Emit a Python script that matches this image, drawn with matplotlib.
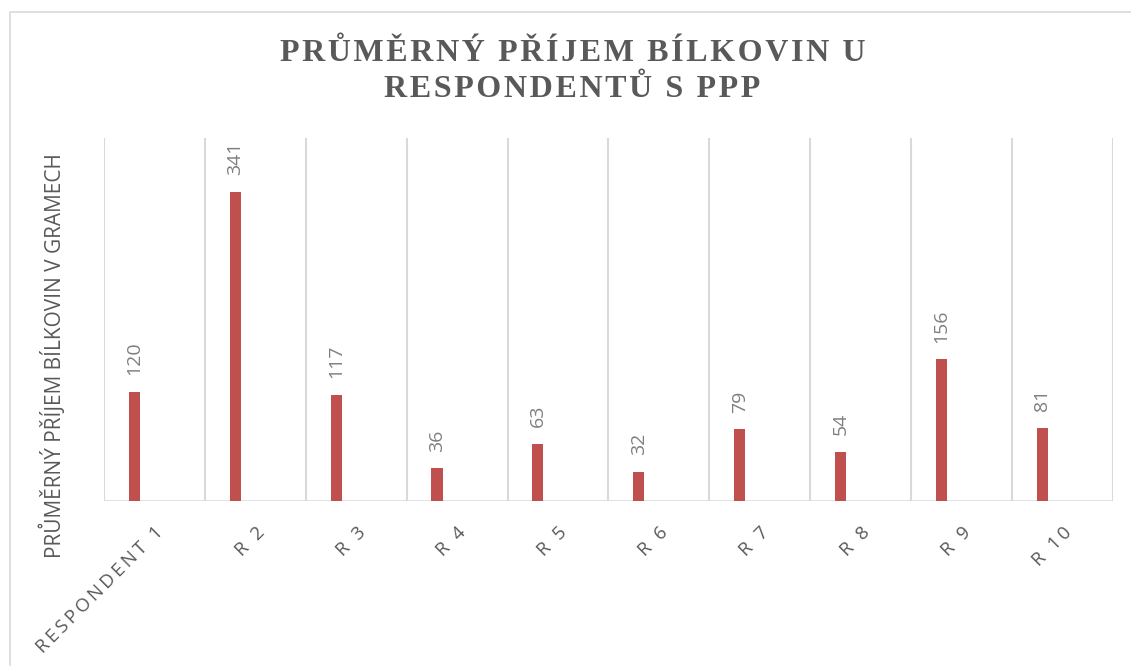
import numpy as np
import matplotlib.pyplot as plt
from matplotlib.patches import Rectangle

categories = ["RESPONDENT 1", "R 2", "R 3", "R 4", "R 5", "R 6", "R 7", "R 8", "R 9", "R 10"]
protein = [120, 341, 117, 36, 63, 32, 79, 54, 156, 81]

bar_color = "#C0504D"
grid_color = "#D9D9D9"
text_color = "#595959"
sans = ["Open Sans", "DejaVu Sans"]
serif = ["Liberation Serif", "DejaVu Serif"]


def spaced(s, sep="\u2009"):
    # fake letter spacing with thin spaces
    return "\n".join(sep.join(line) for line in s.split("\n"))


fig = plt.figure(figsize=(11.31, 6.66), dpi=100)
ax = fig.add_axes([0.092, 0.2477, 0.892, 0.545])

# outer chart border
fig.patches.append(Rectangle((10 / 1131, -0.01), 1.0, (666 - 12) / 666 + 0.01,
                             transform=fig.transFigure, fill=False,
                             edgecolor=grid_color, lw=1.2))

x = np.arange(len(categories))
bar_x = x - 0.2
ax.bar(bar_x, protein, width=0.11, color=bar_color, zorder=3)

for bx, v in zip(bar_x, protein):
    ax.annotate(str(v), (bx, v), xytext=(0, 12), textcoords="offset points",
                rotation=90, ha="center", va="bottom", fontsize=14,
                color="#7F7F7F", family=sans)

ax.set_xlim(-0.5, len(categories) - 0.5)
ax.set_ylim(0, 400)

# vertical gridlines on category boundaries
for b in np.arange(-0.5, len(categories), 1.0):
    ax.axvline(b, color=grid_color, lw=1.5, zorder=1)
ax.axhline(0, color=grid_color, lw=1.8, zorder=2)

for s in ax.spines.values():
    s.set_visible(False)
ax.set_yticks([])
ax.set_xticks(x)
ax.set_xticklabels([spaced(c) for c in categories], rotation=45, ha="right",
                   va="top", rotation_mode="anchor", fontsize=13.5,
                   color=text_color, family=sans)
ax.tick_params(axis="x", length=0, pad=16)

ax.set_ylabel("PRŮMĚRNÝ PŘÍJEM BÍLKOVIN V GRAMECH", fontsize=15,
              color=text_color, family=sans)
ax.yaxis.set_label_coords(-0.038, 0.40)

fig.text(0.506, 0.893, spaced("PRŮMĚRNÝ PŘÍJEM BÍLKOVIN U\nRESPONDENTŮ S PPP", "\u200a"),
         ha="center", va="center", fontsize=23, fontweight="bold",
         color=text_color, family=serif, linespacing=1.33)

fig.savefig("out.png", dpi=100)
